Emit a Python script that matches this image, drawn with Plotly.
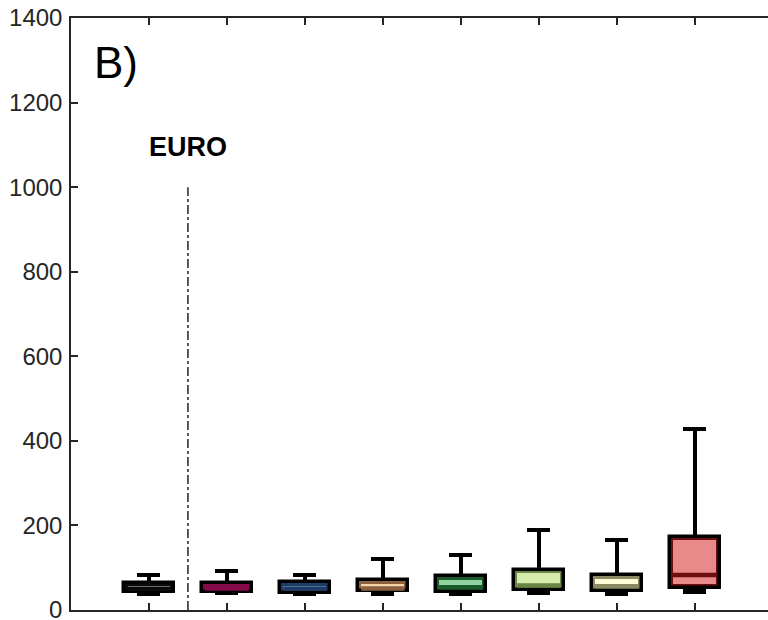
import plotly.graph_objects as go

# ---- data ----
positions = [1, 2, 3, 4, 5, 6, 7, 8]
box_min = [38, 40, 38, 37, 38, 40, 38, 43]
box_q1 = [42, 43, 40, 44, 43, 47, 45, 52]
box_median = [50, 51, 50, 51, 54, 58, 56, 83]
box_q3 = [65, 64, 66, 71, 80, 95, 83, 173]
box_max = [83, 93, 83, 120, 130, 189, 166, 427]
face_colors = ["#c8c8c8", "#e8609b", "#7ea3cf", "#f6d0a6", "#8fd3a0", "#d5ecad", "#fdfbd7", "#e98a8a"]
dark_colors = ["#0a0a0a", "#850a4a", "#1e3c66", "#8a6140", "#1c5a2c", "#6a8545", "#8a8a62", "#6e0f0f"]
y_ticks = [0, 200, 400, 600, 800, 1000, 1200, 1400]
divider_x = 1.5
divider_top = 1000
group_label = "EURO"
panel_label = "B)"

# ---- layout geometry ----
W, H = 768, 620
ml, mt, mb, mr = 71, 18, 10, 0
x_range = [0, 8.94]
y_range = [0, 1400]
plot_h = H - mt - mb
plot_w = W - ml - mr
px_y = (y_range[1] - y_range[0]) / plot_h
px_x = (x_range[1] - x_range[0]) / plot_w

box_w = 50 * px_x
inset = 3.6

fig = go.Figure()

# lower whiskers (zero-height bars carrying error bars)
fig.add_trace(go.Bar(
    x=positions, y=[0] * len(positions), base=box_q1, width=box_w,
    marker=dict(color="rgba(0,0,0,0)", line=dict(width=0)),
    error_y=dict(type="data", symmetric=False,
                 array=[0] * len(positions),
                 arrayminus=[q - m for q, m in zip(box_q1, box_min)],
                 color="black", thickness=4, width=11.5),
    showlegend=False, hoverinfo="skip"))
# upper whiskers
fig.add_trace(go.Bar(
    x=positions, y=[0] * len(positions), base=box_q3, width=box_w,
    marker=dict(color="rgba(0,0,0,0)", line=dict(width=0)),
    error_y=dict(type="data", symmetric=False,
                 array=[m - q for q, m in zip(box_q3, box_max)],
                 arrayminus=[0] * len(positions),
                 color="black", thickness=4, width=11.5),
    showlegend=False, hoverinfo="skip"))
# outer box (black border, dark inner edge)
fig.add_trace(go.Bar(
    x=positions, y=[q3 - q1 for q1, q3 in zip(box_q1, box_q3)], base=box_q1,
    width=box_w,
    marker=dict(color=dark_colors, line=dict(color="black", width=3.5)),
    showlegend=False, hoverinfo="skip"))
# inner face
fig.add_trace(go.Bar(
    x=positions,
    y=[(q3 - q1) - 2 * inset * px_y for q1, q3 in zip(box_q1, box_q3)],
    base=[q1 + inset * px_y for q1 in box_q1],
    width=box_w - 2 * inset * px_x,
    marker=dict(color=face_colors, line=dict(width=0)),
    showlegend=False, hoverinfo="skip"))
# medians
fig.add_trace(go.Scatter(
    x=positions, y=box_median, mode="markers",
    marker=dict(symbol="line-ew", size=31,
                line=dict(color=dark_colors, width=4.5)),
    showlegend=False, hoverinfo="skip"))
# divider line
fig.add_trace(go.Scatter(
    x=[divider_x, divider_x], y=[0, divider_top], mode="lines",
    line=dict(color="black", width=1.3, dash="dashdot"),
    showlegend=False, hoverinfo="skip"))

fig.add_annotation(x=divider_x, y=1095, text=f"<b>{group_label}</b>",
                   showarrow=False, xanchor="center", yanchor="middle",
                   font=dict(family="Arial, Liberation Sans", size=27, color="black"))
fig.add_annotation(x=0.27, y=1295, text=panel_label,
                   showarrow=False, xanchor="left", yanchor="middle",
                   font=dict(family="Arial, Liberation Sans", size=44, color="black"))

fig.update_layout(
    width=W, height=H,
    margin=dict(l=ml, r=mr, t=mt, b=mb, pad=0, autoexpand=False),
    paper_bgcolor="white", plot_bgcolor="white",
    barmode="overlay", bargap=0,
    font=dict(family="Arial, Liberation Sans", size=24, color="#262626"),
)
fig.update_xaxes(range=x_range, tickvals=positions, showticklabels=False,
                 ticks="inside", ticklen=7, tickwidth=1.5, tickcolor="#262626",
                 showline=True, linecolor="#262626", linewidth=1.5, automargin=False,
                 mirror="allticks", showgrid=False, zeroline=False, fixedrange=True)
fig.update_yaxes(range=y_range, tickvals=y_ticks,
                 ticks="inside", ticklen=7, tickwidth=1.5, tickcolor="#262626",
                 showline=True, linecolor="#262626", linewidth=1.5, automargin=False,
                 mirror=False, showgrid=False, zeroline=False, fixedrange=True,
                 ticklabeloverflow="allow", ticklabelstandoff=2,
                 tickfont=dict(size=24, color="#262626"))

fig.write_html("out.html")
